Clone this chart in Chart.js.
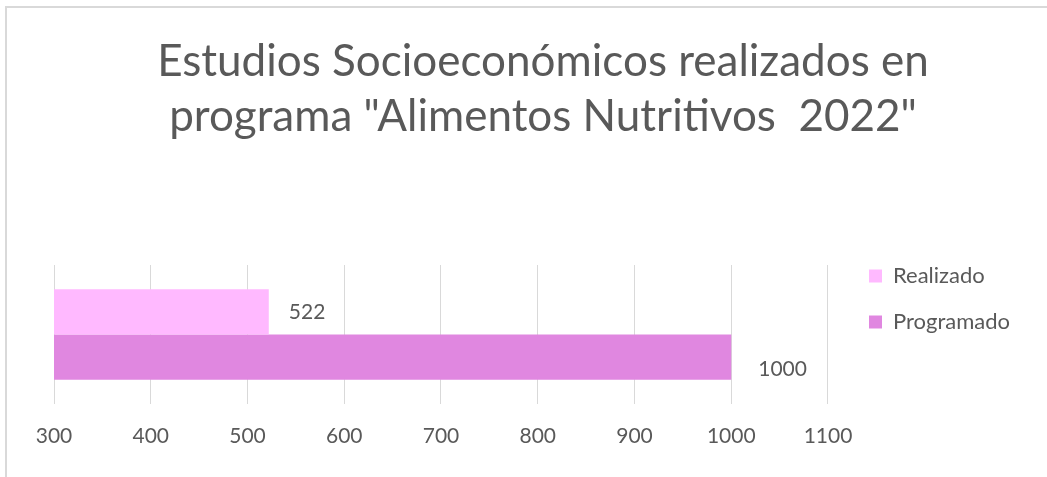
<!DOCTYPE html>
<html lang="es">
<head>
<meta charset="utf-8">
<title>Estudios Socioeconómicos</title>
<script src="https://cdn.jsdelivr.net/npm/chart.js@4/dist/chart.umd.min.js"></script>
<style>
  html, body { margin: 0; padding: 0; background: #fff; overflow: hidden; }
  .frame {
    position: absolute; left: 5px; top: 6px; width: 1041px; height: 480px;
    border-top: 2px solid #d9d9d9; border-left: 2px solid #d9d9d9;
  }
  canvas { position: absolute; left: 0; top: 0; }
</style>
</head>
<body>
<div class="frame"></div>
<canvas id="chart" width="1047" height="477" aria-label="Estudios Socioeconómicos realizados"></canvas>
<script>
const titleLines = ['Estudios Socioeconómicos realizados en', 'programa "Alimentos Nutritivos  2022"'];
const categories = ['Estudios'];
const seriesNames = ['Realizado', 'Programado'];
const realizado = [522];
const programado = [1000];
const axisMin = 300;
const axisMax = 1100;
const axisStep = 100;

const textColor = '#595959';

// Excel-like placement: move the built-in legend and title after layout
const placeLegend = {
  id: 'placeLegend',
  afterLayout(chart) {
    const lg = chart.legend;
    const pad = lg.options.labels.padding;
    const dx = 869 - pad - lg.left;
    const dy = 265 - pad - lg.top;
    lg.left += dx; lg.right += dx;
    lg.top += dy; lg.bottom += dy;

    const tb = chart.titleBlock;
    const tx = 543 - (tb.left + tb.right) / 2;
    tb.left += tx; tb.right += tx;
  }
};

// value labels next to the bars
const labelGap = [20, 27];
const labelShift = [0, 12];
const valueLabels = {
  id: 'valueLabels',
  afterDatasetsDraw(chart) {
    const ctx = chart.ctx;
    ctx.save();
    ctx.font = '21px Lato';
    ctx.fillStyle = textColor;
    ctx.textAlign = 'left';
    ctx.textBaseline = 'middle';
    chart.data.datasets.forEach((ds, i) => {
      chart.getDatasetMeta(i).data.forEach((bar, j) => {
        ctx.fillText(String(ds.data[j]), bar.x + labelGap[i], bar.y + labelShift[i]);
      });
    });
    ctx.restore();
  }
};

Chart.defaults.font.family = 'Lato';
Chart.defaults.color = textColor;

new Chart(document.getElementById('chart'), {
  type: 'bar',
  data: {
    labels: categories,
    datasets: [
      {
        label: seriesNames[0],
        data: realizado,
        backgroundColor: '#ffb9ff',
        barPercentage: 1,
        categoryPercentage: 0.652,
      },
      {
        label: seriesNames[1],
        data: programado,
        backgroundColor: '#e087e0',
        barPercentage: 1,
        categoryPercentage: 0.652,
      },
    ],
  },
  options: {
    indexAxis: 'y',
    responsive: false,
    animation: false,
    layout: {
      padding: { left: 54, right: 44, top: 0, bottom: 8 },
    },
    plugins: {
      title: {
        display: true,
        text: titleLines,
        color: textColor,
        font: { size: 44, weight: 'normal', lineHeight: 1.25 },
        padding: { top: 34, bottom: 121 },
      },
      legend: {
        position: 'right',
        align: 'start',
        labels: {
          boxWidth: 13,
          boxHeight: 13,
          padding: 24,
          color: textColor,
          font: { size: 22 },
        },
      },
      tooltip: { enabled: false },
    },
    scales: {
      x: {
        min: axisMin,
        max: axisMax,
        border: { display: false },
        grid: { color: '#d9d9d9', drawTicks: false },
        ticks: {
          stepSize: axisStep,
          padding: 20,
          color: textColor,
          font: { size: 21 },
          callback: (v) => String(v),
        },
      },
      y: {
        display: false,
      },
    },
  },
  plugins: [placeLegend, valueLabels],
});
</script>
</body>
</html>
